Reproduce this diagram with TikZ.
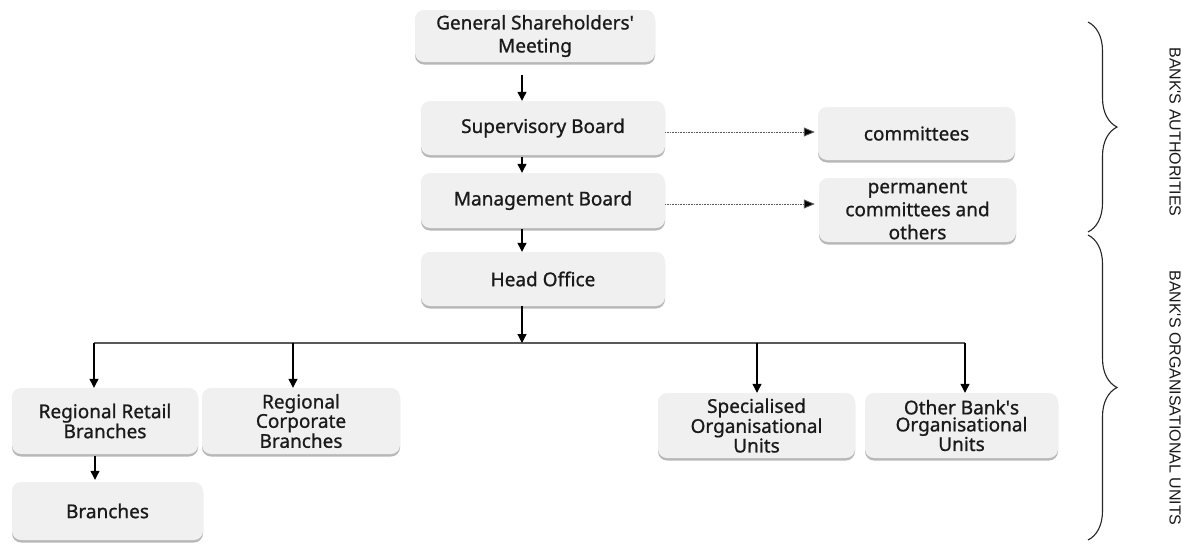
\documentclass[tikz,border=0pt]{standalone}
\usepackage{fontspec}
\setmainfont{Noto Sans}[FakeBold=0.9]
\newfontfamily\labelfont{Liberation Sans}
\usetikzlibrary{arrows.meta,shadows,decorations.pathreplacing}
\definecolor{boxfill}{HTML}{F0F0F0}
\definecolor{txt}{HTML}{1A1A1A}
\begin{document}
\begin{tikzpicture}[x=1pt,y=-1pt,
  box/.style={fill=boxfill, rounded corners=9pt,
    drop shadow={shadow xshift=0pt, shadow yshift=-2.5pt, opacity=0.5, fill=black!55},
    align=center, text=txt, inner sep=0pt},
  fa/.style={font=\fontsize{19}{23}\selectfont},
  fb/.style={font=\fontsize{19}{17}\selectfont},
  arr/.style={draw=black, line width=1.2pt, -{Triangle[length=9pt,width=9pt]}},
  dotarr/.style={draw=black!65, line width=0.9pt, dash pattern=on 0.8pt off 0.8pt, -{Triangle[length=11pt,width=9pt,fill=black]}},
  bus/.style={draw=black!65, line width=2pt},
  bracestyle/.style={draw=black!85, line width=1.1pt, decorate, decoration={brace, amplitude=29pt}},
  lab/.style={font=\labelfont\fontsize{16}{18}\selectfont, text=black!90, rotate=-90, inner sep=0pt}
]
\useasboundingbox (0,0) rectangle (1182,544);
\fill[white] (0,0) rectangle (1182,544);

% nodes
\node[box, fa, minimum width=240pt, minimum height=52pt] (gsm) at (535,36) {General Shareholders\textquotesingle\\Meeting};
\node[box, fa, minimum width=244pt, minimum height=54pt] (sb) at (543,128) {Supervisory Board};
\node[box, fa, minimum width=244pt, minimum height=55pt] (mb) at (543,200.5) {Management Board};
\node[box, fa, minimum width=244pt, minimum height=54pt] (ho) at (543,279) {Head Office};
\node[box, fa, minimum width=197pt, minimum height=53pt] (com) at (916.5,133.5) {committees};
\node[box, fa, minimum width=197pt, minimum height=64pt] (perm) at (917.5,210) {permanent\\committees and\\others};
\node[box, fb, minimum width=186pt, minimum height=66pt] (rrb) at (105,421) {Regional Retail\\Branches};
\node[box, fb, minimum width=198pt, minimum height=66pt] (rcb) at (301,421) {Regional\\Corporate\\Branches};
\node[box, fa, minimum width=191pt, minimum height=58pt] (br) at (107.5,511) {Branches};
\node[box, fb, minimum width=197pt, minimum height=65pt] (spec) at (756.5,425.5) {Specialised\\Organisational\\Units};
\node[box, fb, minimum width=193pt, minimum height=65pt] (oth) at (961.5,425.5) {Other Bank\textquotesingle s\\Organisational\\Units};

% helper coordinates
\coordinate (ax) at (522,0);
\coordinate (d1) at (0,132);
\coordinate (d2) at (0,204);
\coordinate (busL) at (94,343);
\coordinate (busR) at (965,343);
\coordinate (c2) at (293,0);
\coordinate (c3) at (757,0);
\coordinate (c5) at (95,0);

% vertical arrows
\draw[arr, shorten <=13pt] (gsm.south -| ax) -- (sb.north -| ax);
\draw[arr, shorten <=2pt] (sb.south -| ax) -- (mb.north -| ax);
\draw[arr, shorten <=1pt] (mb.south -| ax) -- (ho.north -| ax);
\draw[bus] (busL) -- (busR);
\draw[arr] (ho.south -| ax) -- (busL -| ax);

% drops
\draw[arr] (busL) -- (busL |- rrb.north);
\draw[arr] (busL -| c2) -- (rcb.north -| c2);
\draw[arr] (busL -| c3) -- (spec.north -| c3);
\draw[arr] (busR) -- (busR |- oth.north);
\draw[arr, shorten <=2pt, shorten >=2pt] (rrb.south -| c5) -- (br.north -| c5);

% dotted arrows
\draw[dotarr] (sb.east |- d1) -- ([xshift=-3pt]com.west |- d1);
\draw[dotarr] (mb.east |- d2) -- ([xshift=-4pt]perm.west |- d2);

% braces
\coordinate (b1t) at (1088,22);
\coordinate (b1b) at (1088,232);
\coordinate (b2t) at (1088,235);
\coordinate (b2b) at (1088,540);
\draw[bracestyle] (b1t) -- (b1b);
\draw[bracestyle] (b2t) -- (b2b);

\node[lab] (la) at (1175,132) {BANK\textquotesingle S AUTHORITIES};
\node[lab] (lb) at (1175,398) {BANK\textquotesingle S ORGANISATIONAL UNITS};
\end{tikzpicture}
\end{document}
